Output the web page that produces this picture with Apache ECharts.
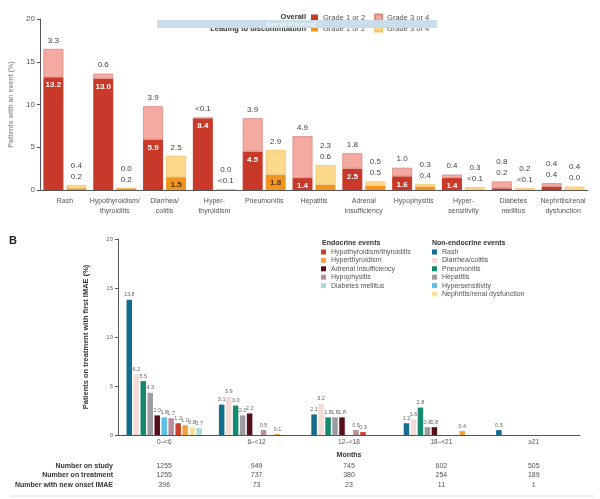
<!DOCTYPE html>
<html><head><meta charset="utf-8">
<script src="https://cdn.jsdelivr.net/npm/echarts@6/dist/echarts.min.js"></script>
<style>html,body{margin:0;padding:0;background:#fff}#c{width:600px;height:499px}</style>
</head><body><div id="c"></div>
<script>
// ---------- Panel A data ----------
const catsA = ['Rash','Hypothyroidism/\nthyroiditis','Diarrhea/\ncolitis','Hyper-\nthyroidism','Pneumonitis','Hepatitis','Adrenal\ninsufficiency','Hypophysitis','Hyper-\nsensitivity','Diabetes\nmellitus','Nephritis/renal\ndysfunction'];
// 0.05 stands for "<0.1"
const overallG12 = [13.2, 13.0, 5.9, 8.4, 4.5, 1.4, 2.5, 1.6, 1.4, 0.2, 0.4];
const overallG34 = [3.3, 0.6, 3.9, 0.05, 3.9, 4.9, 1.8, 1.0, 0.4, 0.8, 0.4];
const discG12 = [0.2, 0.2, 1.5, 0.05, 1.8, 0.6, 0.5, 0.4, 0.05, 0.05, 0.0];
const discG34 = [0.4, 0.0, 2.5, 0.0, 2.9, 2.3, 0.5, 0.3, 0.3, 0.2, 0.4];
const ticksA = [0, 5, 10, 15, 20];

// ---------- Panel B data ----------
const months = ['0–<6', '6–<12', '12–<18', '18–<21', '≥21'];
const rash = [13.8, 3.1, 2.1, 1.2, 0.5];
const diarrhea = [6.2, 3.9, 3.2, 1.6, null];
const pneumonitis = [5.5, 3.0, 1.8, 2.8, null];
const hepatitis = [4.3, 2.0, 1.8, 0.8, null];
const adrenal = [2.0, 2.2, 1.8, 0.8, null];
const hypersens = [1.8, null, null, null, null];
const hypophysitis = [1.7, 0.5, 0.5, null, null];
const hypothyroid = [1.2, null, 0.3, null, null];
const hyperthyroid = [1.0, 0.1, null, 0.4, null];
const nephritis = [0.8, null, null, null, null];
const diabetes = [0.7, null, null, null, null];
const onStudy = [1255, 949, 745, 602, 505];
const onTreatment = [1255, 737, 380, 254, 189];
const newOnset = [396, 73, 23, 11, 1];
const rowLabels = ['Number on study', 'Number on treatment', 'Number with new onset IMAE'];

const FONT = 'Liberation Sans, Arial, sans-serif';
const fmt = v => (v > 0 && v < 0.1) ? '<0.1' : Number(v).toFixed(1);

function stackPair(prefix, stack, g12, g34, c12, c34, border34, inThr, inColor) {
  return [
    { name: prefix + '|Grade 1 or 2', type: 'bar', stack: stack, xAxisIndex: 0, yAxisIndex: 0,
      barWidth: 20, barGap: '15%', data: g12, itemStyle: { color: c12 },
      label: { show: true, position: 'insideTop', distance: 4, fontSize: 8, fontWeight: 'bold', color: inColor, fontFamily: FONT,
        formatter: p => (p.value >= inThr ? fmt(p.value) : '') } },
    { name: prefix + '|Grade 3 or 4', type: 'bar', stack: stack, xAxisIndex: 0, yAxisIndex: 0,
      barWidth: 20, barGap: '15%', data: g34, itemStyle: { color: c34, borderColor: border34, borderWidth: 0.8 },
      label: { show: true, position: 'top', distance: 3, fontSize: 8, color: '#444', lineHeight: 11, fontFamily: FONT,
        formatter: p => { let s = fmt(p.value); const b = g12[p.dataIndex]; if (b < inThr) s += '\n' + fmt(b); return s; } } }
  ];
}

const bSeriesDef = [
  ['Rash', rash, '#136d8c'],
  ['Diarrhea/colitis', diarrhea, '#f3dcd6'],
  ['Pneumonitis', pneumonitis, '#15896f'],
  ['Hepatitis', hepatitis, '#9c9ca2'],
  ['Adrenal insufficiency', adrenal, '#55101c'],
  ['Hypersensitivity', hypersens, '#5cc0e8'],
  ['Hypophysitis', hypophysitis, '#b98c9b'],
  ['Hypothyroidism/thyroiditis', hypothyroid, '#c8412d'],
  ['Hyperthyroidism', hyperthyroid, '#f0a23e'],
  ['Nephritis/renal dysfunction', nephritis, '#fbe29c'],
  ['Diabetes mellitus', diabetes, '#a9dcd9']
];
const bSeries = bSeriesDef.map(([n, d, c]) => ({
  name: n, type: 'bar', xAxisIndex: 1, yAxisIndex: 1, data: d, barWidth: 5.5, barGap: '27%',
  itemStyle: { color: c },
  label: { show: true, position: 'top', distance: 2, fontSize: 5.5, color: '#666', fontFamily: FONT,
    formatter: p => (p.value == null ? '' : fmt(p.value)) }
}));

const groupCenters = months.map((m, i) => 118 + 462 / 5 * (i + 0.5));
const tableGraphics = [];
[onStudy, onTreatment, newOnset].forEach((row, r) => {
  const y = 466 + r * 9.5;
  tableGraphics.push({ type: 'text', x: 113, y: y, style: { text: rowLabels[r], font: 'bold 7px ' + FONT, fill: '#333', textAlign: 'right', textVerticalAlign: 'middle' } });
  row.forEach((v, i) => tableGraphics.push({ type: 'text', x: groupCenters[i], y: y,
    style: { text: String(v), font: '7px ' + FONT, fill: '#555', textAlign: 'center', textVerticalAlign: 'middle' } }));
});

const legBase = { padding: 0, selectedMode: false, icon: 'rect' };
const chart = echarts.init(document.getElementById('c'), null, { renderer: 'canvas' });
chart.setOption({
  animation: false,
  textStyle: { fontFamily: FONT },
  grid: [
    { left: 36, top: 19, width: 552, height: 171 },
    { left: 118, top: 239, width: 462, height: 196 }
  ],
  legend: [
    Object.assign({ left: 311, top: 13.5, itemWidth: 7, itemHeight: 6, itemGap: 9,
      data: ['Overall|Grade 1 or 2', 'Overall|Grade 3 or 4'], formatter: n => n.split('|')[1],
      textStyle: { fontSize: 7.5, color: '#555' } }, legBase),
    Object.assign({ left: 311, top: 24.5, itemWidth: 7, itemHeight: 6, itemGap: 9,
      data: ['Disc|Grade 1 or 2', 'Disc|Grade 3 or 4'], formatter: n => n.split('|')[1],
      textStyle: { fontSize: 7.5, color: '#555' } }, legBase),
    Object.assign({ left: 321, top: 248.5, orient: 'vertical', itemWidth: 5, itemHeight: 5, itemGap: 1.4,
      data: ['Hypothyroidism/thyroiditis', 'Hyperthyroidism', 'Adrenal insufficiency', 'Hypophysitis', 'Diabetes mellitus'],
      textStyle: { fontSize: 7, lineHeight: 7, color: '#555' } }, legBase),
    Object.assign({ left: 432, top: 248.5, orient: 'vertical', itemWidth: 5, itemHeight: 5, itemGap: 1.4,
      data: ['Rash', 'Diarrhea/colitis', 'Pneumonitis', 'Hepatitis', 'Hypersensitivity', 'Nephritis/renal dysfunction'],
      textStyle: { fontSize: 7, lineHeight: 7, color: '#555' } }, legBase)
  ],
  xAxis: [
    { type: 'category', gridIndex: 0, data: catsA,
      axisLine: { lineStyle: { color: '#555' } },
      axisTick: { length: 4, interval: 0, lineStyle: { color: '#555' } },
      axisLabel: { interval: 0, fontSize: 7, color: '#555', lineHeight: 10, margin: 6 } },
    { type: 'category', gridIndex: 1, data: months,
      name: 'Months', nameLocation: 'middle', nameGap: 17, nameTextStyle: { fontSize: 7, fontWeight: 'bold', color: '#333' },
      axisLine: { lineStyle: { color: '#555' } },
      axisTick: { length: 3, interval: 0, lineStyle: { color: '#555' } },
      axisLabel: { interval: 0, fontSize: 6.5, color: '#555', margin: 4 } }
  ],
  yAxis: [
    { type: 'value', gridIndex: 0, min: ticksA[0], max: ticksA[ticksA.length - 1], interval: 5,
      name: 'Patients with an event (%)', nameLocation: 'middle', nameGap: 25,
      nameTextStyle: { fontSize: 7, fontWeight: 'bold', color: '#999' },
      axisLine: { show: true, lineStyle: { color: '#555' } }, axisTick: { show: true, length: 3, lineStyle: { color: '#555' } },
      splitLine: { show: false }, axisLabel: { fontSize: 8, color: '#555', margin: 5 } },
    { type: 'value', gridIndex: 1, min: 0, max: 20, interval: 5,
      name: 'Patients on treatment with first IMAE (%)', nameLocation: 'middle', nameGap: 28,
      nameTextStyle: { fontSize: 7.5, fontWeight: 'bold', color: '#333' },
      axisLine: { show: true, lineStyle: { color: '#555' } }, axisTick: { show: true, length: 3, lineStyle: { color: '#555' } },
      splitLine: { show: false }, axisLabel: { fontSize: 6, color: '#666', margin: 5 } }
  ],
  series: [
    ...stackPair('Overall', 'o', overallG12, overallG34, '#c8392a', '#f4aaa1', '#d98a80', 1.4, '#fff'),
    ...stackPair('Disc', 'd', discG12, discG34, '#f0951f', '#fdd98c', '#f3c46e', 1.5, '#5a3510'),
    ...bSeries
  ],
  graphic: [
    { type: 'text', x: 306, y: 17, z: 10, style: { text: 'Overall', font: 'bold 7.5px ' + FONT, fill: '#333', textAlign: 'right', textVerticalAlign: 'middle' } },
    { type: 'text', x: 306, y: 28.5, z: 10, style: { text: 'Leading to discontinuation', font: 'bold 7.5px ' + FONT, fill: '#333', textAlign: 'right', textVerticalAlign: 'middle' } },
    { type: 'rect', z: 20, shape: { x: 157, y: 20, width: 280, height: 8 }, style: { fill: '#cbdde8' } },
    { type: 'text', x: 265, y: 24, z: 21, style: { text: 'Journal Pre-proof', font: 'italic 7px serif', fill: '#fff', textVerticalAlign: 'middle' } },
    { type: 'text', x: 9, y: 241, style: { text: 'B', font: 'bold 11px ' + FONT, fill: '#222', textVerticalAlign: 'middle' } },
    { type: 'text', x: 322, y: 243, style: { text: 'Endocrine events', font: 'bold 7px ' + FONT, fill: '#333', textVerticalAlign: 'middle' } },
    { type: 'text', x: 432, y: 243, style: { text: 'Non-endocrine events', font: 'bold 7px ' + FONT, fill: '#333', textVerticalAlign: 'middle' } },
    ...tableGraphics,
    { type: 'line', shape: { x1: 10, y1: 496, x2: 594, y2: 496 }, style: { stroke: '#d5dde2', lineWidth: 1 } }
  ]
});
</script></body></html>
